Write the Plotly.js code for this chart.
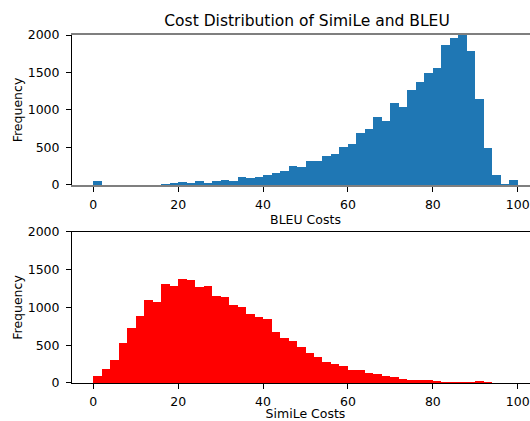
<!DOCTYPE html>
<html>
<head>
<meta charset="utf-8">
<script src="https://cdn.plot.ly/plotly-3.0.1.min.js"></script>
<style>
html,body{margin:0;padding:0;overflow:hidden;background:#fff;width:530px;height:421px;}
#chart{width:560px;height:421px;}
</style>
</head>
<body>
<div id="chart"></div>
<script>
// bin centers (bin width 2, from 0 to 100)
const binCenters = [1,3,5,7,9,11,13,15,17,19,21,23,25,27,29,31,33,35,37,39,41,43,45,47,49,
                    51,53,55,57,59,61,63,65,67,69,71,73,75,77,79,81,83,85,87,89,91,93,95,97,99];
const bleuCounts = [53,4,3,4,5,5,6,6,7,22,35,22,53,22,53,66,53,101,88,101,128,154,190,255,245,
                    318,318,384,411,503,543,689,742,901,848,1099,1046,1272,1377,1497,1563,1868,1960,2030,1788,1152,490,132,13,66];
const simileCounts = [92,185,303,528,725,884,1095,1068,1306,1279,1372,1358,1266,1279,1147,1134,1029,1002,910,870,844,673,593,554,475,
                      396,343,277,251,224,171,171,132,119,92,79,53,40,40,40,26,13,13,13,13,26,13,3,0,0];
const xTicks = [0,20,40,60,80,100];
const yTicks = [0,500,1000,1500,2000];
const titleText = "Cost Distribution of SimiLe and BLEU";
const xLabelTop = "BLEU Costs";
const xLabelBottom = "SimiLe Costs";
const yLabel = "Frequency";

const font = {family: "DejaVu Sans", size: 12.5, color: "#000"};

const traces = [
  {type: "bar", x: binCenters, y: bleuCounts, width: 2, marker: {color: "#1f77b4", line: {width: 0}},
   xaxis: "x", yaxis: "y", hoverinfo: "none"},
  {type: "bar", x: binCenters, y: simileCounts, width: 2, marker: {color: "#ff0000", line: {width: 0}},
   xaxis: "x2", yaxis: "y2", hoverinfo: "none"}
];

function xa(label, anchor, lineColor, lineWidth, standoff) {
  return {range: [-5, 105], tickvals: xTicks, ticktext: xTicks.map(String), ticks: "outside", ticklen: 5, tickwidth: 1,
          tickcolor: "#000", showline: true, linecolor: lineColor, linewidth: lineWidth, mirror: true, showgrid: false, zeroline: false,
          anchor: anchor, tickfont: font, ticklabelstandoff: 2, title: {text: label, font: font, standoff: standoff}};
}
function ya(domain, anchor) {
  return {range: [0, 2000], domain: domain, tickvals: yTicks, ticktext: yTicks.map(String), ticks: "outside", ticklen: 5,
          tickwidth: 1, tickcolor: "#000", showline: true, linecolor: "#000", linewidth: 1, mirror: true, showgrid: false,
          zeroline: false, anchor: anchor, tickfont: font, ticklabelstandoff: 4, title: {text: yLabel, font: font, standoff: 2}};
}

const layout = {
  width: 560, height: 421,
  margin: {l: 72, r: 21, t: 35, b: 38},
  paper_bgcolor: "#fff", plot_bgcolor: "#fff",
  showlegend: false, bargap: 0,
  font: font,
  title: {text: titleText, font: {family: "DejaVu Sans", size: 15.5, color: "#000"}, x: 307/560, xanchor: "center", y: 1 - 20.5/421, yanchor: "middle"},
  xaxis: xa(xLabelTop, "y", "#7f7f7f", 2, 2),
  yaxis: ya([0.569, 1], "x"),
  xaxis2: xa(xLabelBottom, "y2", "#000", 1, 4),
  yaxis2: ya([0, 0.434], "x2")
};

Plotly.newPlot("chart", traces, layout, {staticPlot: true, displayModeBar: false});
</script>
</body>
</html>
